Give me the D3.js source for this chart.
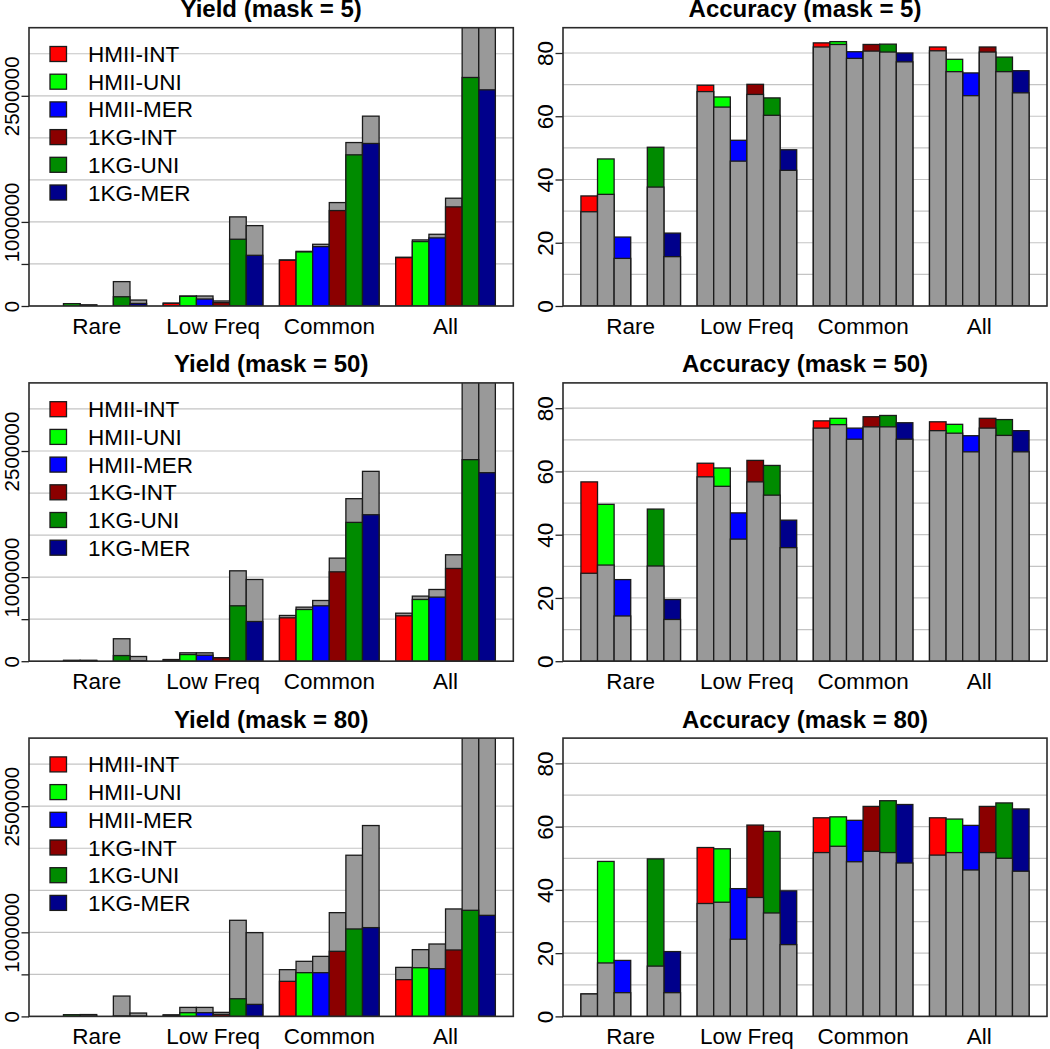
<!DOCTYPE html>
<html><head><meta charset="utf-8">
<script src="https://cdn.jsdelivr.net/npm/d3@7"></script>
<style>
body{margin:0;background:#fff}
text{font-family:Arial,"Liberation Sans",sans-serif;fill:#000}
</style>
</head><body><svg id="c" width="1050" height="1049"></svg>
<script>
const categories = ["Rare", "Low Freq", "Common", "All"];
const series = ["HMII-INT", "HMII-UNI", "HMII-MER", "1KG-INT", "1KG-UNI", "1KG-MER"];
const seriesColors = ["#ff0000", "#00ff00", "#0000ff", "#8b0000", "#008b00", "#00008b"];
const masks = [5, 50, 80];
const yieldTicks = [0, 500000, 1000000, 1500000, 2000000, 2500000, 3000000];
const yieldTickLabels = ["0", "", "1000000", "", "", "2500000", ""];
const accuracyTicks = [0, 10, 20, 30, 40, 50, 60, 70, 80];
const accuracyTickLabels = ["0", "", "20", "", "40", "", "60", "", "80"];

// Yield: coloured part and total (gray on top); rows = categories, cols = series
const yield5Colored = [
  [0, 25000, 12000, 0, 110000, 30000],
  [32000, 115000, 83000, 40000, 794000, 603000],
  [544000, 643000, 706000, 1135000, 1798000, 1933000],
  [575000, 766000, 810000, 1179000, 2718000, 2571000]
];
const yield5Total = [
  [0, 28000, 12000, 0, 290000, 71000],
  [34000, 119000, 119000, 60000, 1060000, 956000],
  [548000, 650000, 734000, 1230000, 1944000, 2258000],
  [580000, 786000, 853000, 1282000, 3600000, 3600000]
];
const yield50Colored = [
  [0, 8000, 8000, 0, 67000, 5000],
  [15000, 79000, 71000, 40000, 659000, 472000],
  [516000, 615000, 659000, 1063000, 1651000, 1742000],
  [540000, 734000, 762000, 1103000, 2397000, 2242000]
];
const yield50Total = [
  [0, 10000, 10000, 0, 267000, 56000],
  [20000, 100000, 100000, 42000, 1075000, 972000],
  [544000, 643000, 722000, 1226000, 1933000, 2258000],
  [571000, 774000, 853000, 1266000, 3600000, 3600000]
];
const yield80Colored = [
  [0, 18000, 4000, 0, 5000, 3000],
  [15000, 44000, 44000, 24000, 210000, 143000],
  [417000, 520000, 520000, 774000, 1040000, 1056000],
  [437000, 579000, 567000, 790000, 1262000, 1202000]
];
const yield80Total = [
  [0, 20000, 22000, 0, 242000, 40000],
  [18000, 107000, 107000, 48000, 1143000, 996000],
  [556000, 655000, 714000, 1234000, 1917000, 2270000],
  [583000, 794000, 861000, 1278000, 3600000, 3600000]
];

// Accuracy: gray base and coloured top
const accuracy5Base = [
  [29.8, 35.3, 15.05, null, 37.6, 15.6],
  [67.8, 62.9, 45.8, 66.9, 60.3, 42.9],
  [81.9, 82.7, 78.3, 80.6, 80.3, 77.2],
  [80.7, 74.1, 66.5, 80.3, 74.1, 67.4]
];
const accuracy5Top = [
  [34.8, 46.5, 21.8, null, 50.2, 23.05],
  [69.8, 66.1, 52.4, 70.1, 65.8, 49.4],
  [83.2, 83.6, 80.4, 82.7, 82.8, 80.0],
  [81.9, 78.0, 73.7, 81.9, 78.7, 74.4]
];
const accuracy50Base = [
  [27.8, 30.4, 14.3, null, 30.1, 13.2],
  [58.3, 55.3, 38.6, 56.7, 52.5, 35.9],
  [73.7, 74.8, 70.2, 74.1, 74.1, 70.2],
  [72.9, 72.1, 66.2, 73.7, 71.4, 66.2]
];
const accuracy50Top = [
  [56.7, 49.6, 25.8, null, 48.1, 19.5],
  [62.6, 61.1, 46.9, 63.5, 61.9, 44.6],
  [76.0, 76.8, 73.7, 77.3, 77.7, 75.4],
  [75.7, 74.9, 71.3, 76.8, 76.4, 72.9]
];
const accuracy80Base = [
  [7.1, 16.9, 7.5, null, 15.9, 7.5],
  [35.7, 36.1, 24.4, 37.6, 32.7, 22.7],
  [51.8, 53.8, 48.9, 52.2, 51.8, 48.5],
  [51.0, 51.8, 46.3, 51.8, 50.0, 45.9]
];
const accuracy80Top = [
  [7.1, 49.0, 17.7, null, 49.8, 20.5],
  [53.4, 53.0, 40.4, 60.5, 58.5, 39.7],
  [62.8, 63.1, 62.0, 66.4, 68.2, 67.0],
  [62.8, 62.4, 60.4, 66.4, 67.5, 65.6]
];

const yieldColored = [yield5Colored, yield50Colored, yield80Colored];
const yieldTotal = [yield5Total, yield50Total, yield80Total];
const accuracyBase = [accuracy5Base, accuracy50Base, accuracy80Base];
const accuracyTop = [accuracy5Top, accuracy50Top, accuracy80Top];

const svg = d3.select("#c");
const GRAY = "#999999";
const cols = [{left: 29, right: 513.3}, {left: 563, right: 1047}];
const rowTop = r => 27.7 + r * 355.2;
const panelH = 278.3;

function panel(r, c) {
  const kind = c === 0 ? "yield" : "accuracy";
  const {left, right} = cols[c];
  const top = rowTop(r), bottom = top + panelH;
  const g = svg.append("g");
  const clipId = "clip" + r + c;
  svg.append("clipPath").attr("id", clipId).append("rect")
    .attr("x", left).attr("y", top).attr("width", right - left).attr("height", panelH);

  const xu = d3.scaleLinear().domain([-0.08, 29.08]).range([left, right]);
  const gx = d3.scaleBand().domain(categories).range([xu(0), xu(28)])
    .paddingInner(1 / 7).paddingOuter(1 / 14).align(1);
  const sx = d3.scaleBand().domain(series).range([0, gx.bandwidth()]);
  const y = d3.scaleLinear().domain(kind === "yield" ? [0, 3.31e6] : [0, 88]).range([bottom, top]);
  const ticks = kind === "yield" ? yieldTicks : accuracyTicks;
  const tickLabels = kind === "yield" ? yieldTickLabels : accuracyTickLabels;

  // grid
  g.append("g").selectAll("line").data(ticks).join("line")
    .attr("x1", left).attr("x2", right)
    .attr("y1", d => y(d)).attr("y2", d => y(d))
    .attr("stroke", "#c4c4c4").attr("stroke-width", 1.2);

  // bars
  const recs = [];
  categories.forEach((cat, ci) => {
    series.forEach((s, si) => {
      if (kind === "yield") {
        recs.push({cat, s, si, tall: yieldTotal[r][ci][si], short: yieldColored[r][ci][si]});
      } else {
        recs.push({cat, s, si, tall: accuracyTop[r][ci][si], short: accuracyBase[r][ci][si]});
      }
    });
  });
  const valid = recs.filter(d => d.tall !== null && d.tall > 0);
  const bars = g.append("g").attr("clip-path", `url(#${clipId})`);
  const tallFill = d => kind === "yield" ? GRAY : seriesColors[d.si];
  const shortFill = d => kind === "yield" ? seriesColors[d.si] : GRAY;
  bars.selectAll("rect.tall").data(valid).join("rect").attr("class", "tall")
    .attr("x", d => gx(d.cat) + sx(d.s)).attr("width", sx.bandwidth())
    .attr("y", d => y(d.tall)).attr("height", d => y(0) - y(d.tall))
    .attr("fill", tallFill).attr("stroke", "#1a1a1a").attr("stroke-width", 1.3);
  bars.selectAll("rect.short").data(valid.filter(d => d.short > 0)).join("rect").attr("class", "short")
    .attr("x", d => gx(d.cat) + sx(d.s)).attr("width", sx.bandwidth())
    .attr("y", d => y(d.short)).attr("height", d => y(0) - y(d.short))
    .attr("fill", shortFill).attr("stroke", "#1a1a1a").attr("stroke-width", 1.3);

  // y axis
  const ya = g.append("g").attr("transform", `translate(${left},0)`)
    .call(d3.axisLeft(y).tickValues(ticks.filter((t, i) => tickLabels[i] !== "" || kind === "yield" && i === 1))
      .tickFormat(d => tickLabels[ticks.indexOf(d)]).tickSize(7.5));
  ya.select(".domain").remove();
  ya.selectAll(".tick line").attr("stroke", "#222").attr("stroke-width", 1.3);
  ya.selectAll(".tick text")
    .attr("transform", "rotate(-90)")
    .attr("x", 0).attr("y", -10).attr("dy", 0)
    .attr("text-anchor", "middle")
    .style("font-size", kind === "yield" ? "20.5px" : "22.5px");

  // x axis labels
  const xa = g.append("g").attr("transform", `translate(0,${bottom})`)
    .call(d3.axisBottom(gx).tickSize(0).tickPadding(12));
  xa.select(".domain").remove();
  xa.selectAll(".tick text").style("font-size", "22.5px");

  // box
  g.append("rect").attr("x", left).attr("y", top).attr("width", right - left).attr("height", panelH)
    .attr("fill", "none").attr("stroke", "#2a2a2a").attr("stroke-width", 1.6);

  // title
  g.append("text").attr("x", (left + right) / 2).attr("y", top - 10.5)
    .attr("text-anchor", "middle").style("font-size", "24px").style("font-weight", "bold")
    .text(`${kind === "yield" ? "Yield" : "Accuracy"} (mask = ${masks[r]})`);

  // legend
  if (kind === "yield") {
    const ly = d3.scalePoint().domain(series).range([top + 26.3, top + 26.3 + 5 * 27.7]);
    const lg = g.append("g");
    lg.selectAll("rect").data(series).join("rect")
      .attr("x", left + 21).attr("y", d => ly(d) - 7.5).attr("width", 16.5).attr("height", 15)
      .attr("fill", (d, i) => seriesColors[i]).attr("stroke", "#1a1a1a").attr("stroke-width", 1.3);
    lg.selectAll("text").data(series).join("text")
      .attr("x", left + 59).attr("y", d => ly(d) + 8)
      .style("font-size", "22.5px").text(d => d);
  }
}

for (let r = 0; r < 3; r++) for (let c = 0; c < 2; c++) panel(r, c);
</script>
</body></html>
